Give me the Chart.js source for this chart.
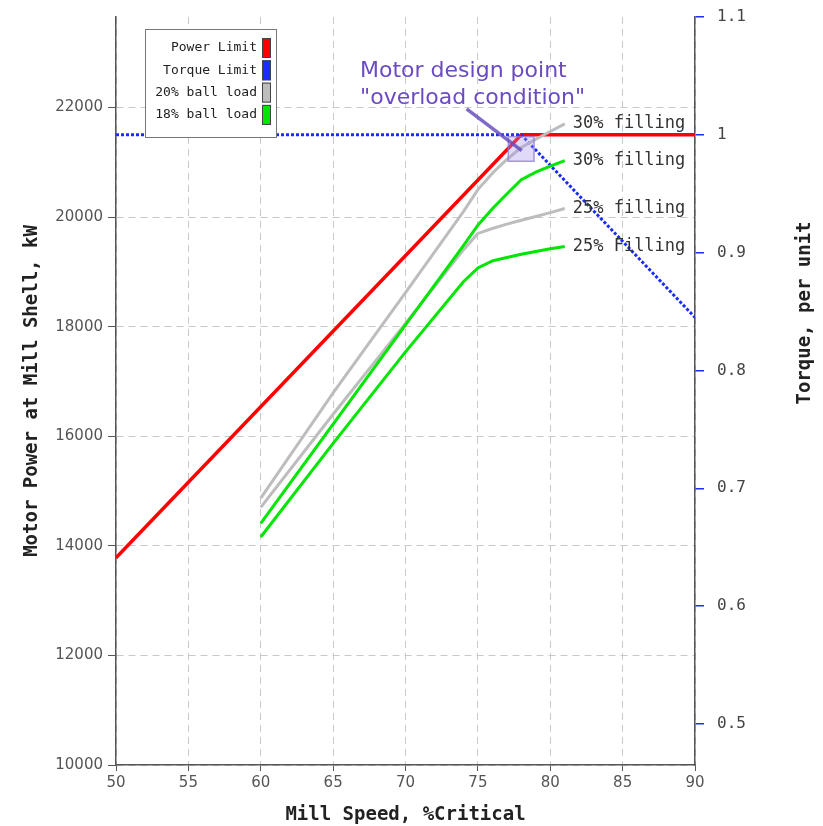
<!DOCTYPE html>
<html>
<head>
<meta charset="utf-8">
<script src="https://cdn.jsdelivr.net/npm/chart.js@4.4.1/dist/chart.umd.min.js"></script>
<style>
  html, body { margin: 0; padding: 0; background: #fff; }
  #wrap { width: 823px; height: 826px; }
</style>
</head>
<body>
<div id="wrap"><canvas id="chart-mill" width="823" height="826"></canvas></div>
<script>
// Mill motor power vs speed, with power/torque limits and ball-load curves.

// ---- data ----------------------------------------------------------------

const limitSpeed = [50, 78, 90];
const powerLimit = [13782, 21500, 21500];      // kW
const torqueLimit = [1.0, 1.0, 0.845];         // per unit

const loadSpeed = [60, 65, 70, 74, 75, 76, 77, 78, 79, 80, 81];
const ball20Fill30 = [14870, 16790, 18620, 20100, 20500, 20800, 21050, 21270, 21420, 21560, 21700];
const ball18Fill30 = [14410, 16220, 18030, 19480, 19850, 20150, 20420, 20680, 20820, 20930, 21030];
const ball20Fill25 = [14700, 16400, 18060, 19400, 19700, 19790, 19870, 19940, 20010, 20080, 20155];
const ball18Fill25 = [14160, 15870, 17540, 18820, 19070, 19200, 19260, 19320, 19370, 19420, 19460];

const speedTicks = [50, 55, 60, 65, 70, 75, 80, 85, 90];
const powerTicks = [10000, 12000, 14000, 16000, 18000, 20000, 22000];
const torqueTicks = [0.5, 0.6, 0.7, 0.8, 0.9, 1, 1.1];

// 1.0 pu torque == 21500 kW, so the right axis is the left one scaled.
const RATED_POWER = 21500;
const POWER_MIN = 10000;
const TORQUE_MAX = 1.1;

// design point marker (data units)
const designBoxSpeed = [77.1, 78.88];
const designBoxPower = [21017, 21468];
const designArrowSpeed = [74.22, 78.03];
const designArrowPower = [21973, 21212];
const designNoteSpeed = 66.86;
const designNotePower = [22561, 22069];
const designNote = ["Motor design point", "\"overload condition\""];

// ---- chart ---------------------------------------------------------------

function pts(xs, ys) {
  return xs.map((x, i) => ({ x: x, y: ys[i] }));
}

// Chart.js reserves room for the end tick labels; the reference doesn't.
function noEdgePad(s) {
  s.paddingTop = 0;
  s.paddingBottom = 0;
  s.paddingLeft = 0;
  s.paddingRight = 0;
}

const MONO = "'DejaVu Sans Mono', monospace";
const SANS = "'DejaVu Sans', sans-serif";

const RED = "#ff0000";
const BLUE = "#1a2cff";
const GREY = "#bdbdbd";
const GREEN = "#00e600";

const overlay = {
  id: "overlay",
  afterDatasetsDraw(chart) {
    const ctx = chart.ctx;
    const x = chart.scales.x, y = chart.scales.y;

    // end-of-curve labels
    ctx.save();
    ctx.font = "17px " + MONO;
    ctx.fillStyle = "#333";
    ctx.textBaseline = "middle";
    ctx.textAlign = "left";
    chart.data.datasets.forEach((ds, i) => {
      if (!ds.endLabel) return;
      const pts = chart.getDatasetMeta(i).data;
      const last = pts[pts.length - 1];
      ctx.fillText(ds.endLabel, last.x + 8, last.y);
    });
    ctx.restore();

    // design point box + pointer
    ctx.save();
    const bx1 = x.getPixelForValue(designBoxSpeed[0]);
    const bx2 = x.getPixelForValue(designBoxSpeed[1]);
    const by1 = y.getPixelForValue(designBoxPower[1]);
    const by2 = y.getPixelForValue(designBoxPower[0]);
    ctx.fillStyle = "rgba(170,150,230,0.35)";
    ctx.strokeStyle = "rgba(140,120,210,0.75)";
    ctx.lineWidth = 1.5;
    ctx.fillRect(bx1, by1, bx2 - bx1, by2 - by1);
    ctx.strokeRect(bx1, by1, bx2 - bx1, by2 - by1);

    ctx.strokeStyle = "rgba(105,80,190,0.85)";
    ctx.lineWidth = 3.5;
    ctx.beginPath();
    ctx.moveTo(x.getPixelForValue(designArrowSpeed[0]), y.getPixelForValue(designArrowPower[0]));
    ctx.lineTo(x.getPixelForValue(designArrowSpeed[1]), y.getPixelForValue(designArrowPower[1]));
    ctx.stroke();

    ctx.fillStyle = "#6a4bc4";
    ctx.font = "22px " + SANS;
    ctx.textAlign = "left";
    ctx.textBaseline = "alphabetic";
    designNote.forEach((t, i) => {
      ctx.fillText(t, x.getPixelForValue(designNoteSpeed), y.getPixelForValue(designNotePower[i]));
    });
    ctx.restore();
  },
  afterDraw(chart) {
    const ctx = chart.ctx;
    const area = chart.chartArea;

    // legend: right-aligned text with a swatch on the right
    const entries = [];
    chart.data.datasets.forEach((ds) => {
      if (!entries.some((e) => e.label === ds.label)) entries.push({ label: ds.label, color: ds.borderColor, rank: ds.legendRank });
    });
    entries.sort((a, b) => a.rank - b.rank);
    const lx = area.left + 29, ly = area.top + 12, lw = 131, lh = 108;
    ctx.save();
    ctx.fillStyle = "#fff";
    ctx.strokeStyle = "#777";
    ctx.lineWidth = 1;
    ctx.fillRect(lx, ly, lw, lh);
    ctx.strokeRect(lx + 0.5, ly + 0.5, lw, lh);
    ctx.font = "13px " + MONO;
    ctx.textAlign = "right";
    ctx.textBaseline = "middle";
    entries.forEach((e, i) => {
      const cy = ly + 19 + i * 22.3;
      ctx.fillStyle = "#222";
      ctx.fillText(e.label, lx + 112, cy);
      ctx.fillStyle = e.color;
      ctx.fillRect(lx + 117, cy - 10, 9, 20);
      ctx.strokeStyle = "#444";
      ctx.strokeRect(lx + 117.5, cy - 9.5, 8, 19);
    });
    ctx.restore();

    // right axis title, reading bottom-to-top
    ctx.save();
    ctx.translate(chart.width - 18, area.top + 296);
    ctx.rotate(-Math.PI / 2);
    ctx.font = "bold 19px " + MONO;
    ctx.fillStyle = "#222";
    ctx.textAlign = "center";
    ctx.textBaseline = "middle";
    ctx.fillText("Torque, per unit", 0, 0);
    ctx.restore();
  },
};

new Chart(document.getElementById("chart-mill"), {
  type: "line",
  data: {
    datasets: [
      { label: "18% ball load", legendRank: 3, data: pts(loadSpeed, ball18Fill30), borderColor: GREEN, backgroundColor: GREEN, borderWidth: 3, endLabel: "30% filling", yAxisID: "y" },
      { label: "18% ball load", legendRank: 3, data: pts(loadSpeed, ball18Fill25), borderColor: GREEN, backgroundColor: GREEN, borderWidth: 3, endLabel: "25% Filling", yAxisID: "y" },
      { label: "20% ball load", legendRank: 2, data: pts(loadSpeed, ball20Fill30), borderColor: GREY, backgroundColor: GREY, borderWidth: 3, endLabel: "30% filling", yAxisID: "y" },
      { label: "20% ball load", legendRank: 2, data: pts(loadSpeed, ball20Fill25), borderColor: GREY, backgroundColor: GREY, borderWidth: 3, endLabel: "25% filling", yAxisID: "y" },
      { label: "Torque Limit", legendRank: 1, data: pts(limitSpeed, torqueLimit), borderColor: BLUE, backgroundColor: BLUE, borderWidth: 3, borderDash: [3, 2], yAxisID: "y2" },
      { label: "Power Limit", legendRank: 0, data: pts(limitSpeed, powerLimit), borderColor: RED, backgroundColor: RED, borderWidth: 3.5, yAxisID: "y" },
    ],
  },
  options: {
    responsive: false,
    animation: false,
    layout: { padding: { top: 17, left: 0, right: 0, bottom: 0 } },
    elements: { point: { radius: 0 }, line: { tension: 0 } },
    plugins: { legend: { display: false }, tooltip: { enabled: false } },
    scales: {
      x: {
        type: "linear",
        min: 50,
        max: 90,
        afterBuildTicks: (s) => { s.ticks = speedTicks.map((v) => ({ value: v })); },
        afterFit: (s) => { s.height = 61; noEdgePad(s); },
        grid: { color: "#c8c8c8", tickColor: "#555", tickLength: 6 },
        border: { color: "#555", width: 1.5, dash: [7, 5] },
        ticks: { font: { family: SANS, size: 15 }, color: "#555", padding: 3, maxRotation: 0, callback: (v) => String(v) },
        title: {
          display: true,
          text: "Mill Speed, %Critical",
          font: { family: MONO, size: 19, weight: "bold" },
          color: "#222",
          padding: { top: 0, bottom: 0 },
        },
      },
      y: {
        position: "left",
        min: POWER_MIN,
        max: TORQUE_MAX * RATED_POWER,
        afterBuildTicks: (s) => { s.ticks = powerTicks.map((v) => ({ value: v })); },
        afterFit: (s) => { s.width = 116; noEdgePad(s); },
        grid: { color: "#c8c8c8", tickColor: "#555", tickLength: 8 },
        border: { color: "#555", width: 1.5, dash: [7, 5] },
        ticks: { font: { family: SANS, size: 15 }, color: "#555", padding: 5, callback: (v) => String(v) },
        title: {
          display: true,
          text: "Motor Power at Mill Shell, kW",
          font: { family: MONO, size: 19, weight: "bold" },
          color: "#222",
          padding: { top: 21, bottom: 0 },
        },
      },
      y2: {
        position: "right",
        min: POWER_MIN / RATED_POWER,
        max: TORQUE_MAX,
        afterBuildTicks: (s) => { s.ticks = torqueTicks.map((v) => ({ value: v })); },
        afterFit: (s) => { s.width = 128; noEdgePad(s); },
        grid: { drawOnChartArea: false, tickColor: BLUE, tickLength: 9, lineWidth: 1.5 },
        border: { color: "#555", width: 1.5 },
        ticks: { font: { family: MONO, size: 16 }, color: "#444", padding: 13, callback: (v) => String(Math.round(v * 10) / 10) },
        title: { display: false },
      },
    },
  },
  plugins: [overlay],
});
</script>
</body>
</html>
